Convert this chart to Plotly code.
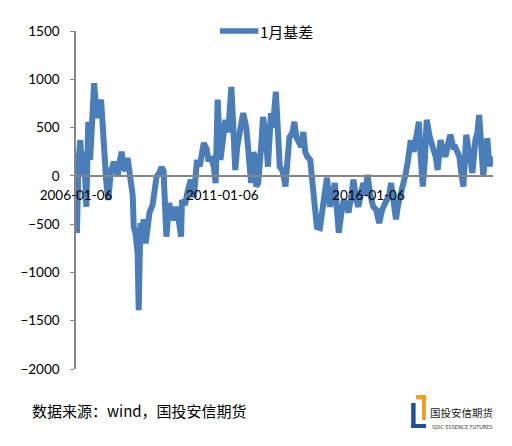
import plotly.graph_objects as go

# ---- data ----
dates = [
    "2006-01-06", "2006-01-18", "2006-02-06", "2006-03-01", "2006-03-25", "2006-04-18",
    "2006-05-15", "2006-06-08", "2006-07-02", "2006-07-26", "2006-08-20", "2006-09-15",
    "2006-10-08", "2006-11-15", "2006-12-22", "2007-01-18", "2007-02-12", "2007-03-18",
    "2007-04-25", "2007-05-18", "2007-06-12", "2007-07-06", "2007-07-30", "2007-08-25",
    "2007-09-18", "2007-10-12", "2007-11-20", "2007-12-15", "2007-12-28", "2008-01-20",
    "2008-02-15", "2008-02-28", "2008-03-10", "2008-03-22", "2008-04-18", "2008-04-30",
    "2008-05-25", "2008-06-18", "2008-07-12", "2008-08-20", "2008-09-12", "2008-10-08",
    "2008-11-15", "2008-12-10", "2009-01-03", "2009-01-15", "2009-02-08", "2009-03-15",
    "2009-04-08", "2009-05-15", "2009-06-08", "2009-07-03", "2009-08-10", "2009-08-22",
    "2009-09-28", "2009-11-03", "2009-12-10", "2010-01-18", "2010-02-25", "2010-04-01",
    "2010-04-25", "2010-05-20", "2010-06-25", "2010-07-20", "2010-08-15", "2010-09-22",
    "2010-10-16", "2010-11-10", "2010-12-15", "2011-01-10", "2011-02-15", "2011-03-22",
    "2011-04-30", "2011-05-25", "2011-06-18", "2011-07-12", "2011-08-20", "2011-09-25",
    "2011-11-03", "2011-11-25", "2012-01-02", "2012-01-28", "2012-02-22", "2012-03-06",
    "2012-03-30", "2012-05-06", "2012-05-30", "2012-07-06", "2012-07-30", "2012-09-06",
    "2012-09-30", "2012-11-06", "2012-11-30", "2012-12-25", "2013-01-30", "2013-03-06",
    "2013-03-30", "2013-04-25", "2013-06-02", "2013-06-25", "2013-07-20", "2013-08-25",
    "2013-09-20", "2013-10-15", "2013-11-08", "2013-12-03", "2014-01-10", "2014-02-03",
    "2014-02-28", "2014-04-03", "2014-05-10", "2014-06-18", "2014-08-06", "2014-09-12",
    "2014-10-06", "2014-11-12", "2014-12-06", "2015-01-01", "2015-02-08", "2015-03-03",
    "2015-04-08", "2015-05-03", "2015-06-08", "2015-07-03", "2015-08-08", "2015-09-03",
    "2015-10-12", "2015-11-05", "2015-11-30", "2015-12-25", "2016-01-30", "2016-03-06",
    "2016-04-12", "2016-05-20", "2016-06-25", "2016-08-15", "2016-09-20", "2016-10-15",
    "2016-11-10", "2016-12-15", "2017-01-10", "2017-02-18", "2017-03-25", "2017-04-18",
    "2017-05-12", "2017-06-18", "2017-07-25", "2017-08-20", "2017-09-28", "2017-10-20",
    "2017-11-15", "2017-12-10", "2018-01-03", "2018-02-10", "2018-03-18", "2018-04-25",
    "2018-05-20", "2018-06-25", "2018-08-01", "2018-08-25", "2018-10-01", "2018-10-25",
    "2018-12-01", "2018-12-25", "2019-01-20", "2019-02-15", "2019-03-08", "2019-04-06",
    "2019-05-12", "2019-06-20", "2019-07-28", "2019-09-03", "2019-09-28", "2019-10-20",
    "2019-11-15", "2019-12-10", "2020-01-06", "2020-01-30", "2020-02-25", "2020-03-20",
    "2020-04-01",
]
basis = [
    100, -590, 150, 370, 0, 250,
    -320, 560, 165, 550, 960, 700,
    600, 790, 135, -50, -250, 50,
    145, 60, 0, 150, 250, 80,
    60, 185, -145, -200, -530, -600,
    -800, -1390, -900, -490, -550, -450,
    -700, -500, -380, -300, -150, -10,
    40, 90, 50, -180, -630, -280,
    -400, -450, -320, -400, -630, -250,
    -300, -150, -40, -220, 165, 100,
    250, 340, 280, 150, 200, 100,
    -75, 790, 165, 400, 580, 450,
    920, 500, 60, 300, 450, 650,
    500, 300, -75, 240, 200, -110,
    -75, 300, 610, 400, 95, 650,
    500, 870, 400, 95, 50, -110,
    150, 400, 450, 560, 400, 340,
    300, 455, 250, 200, 165, -50,
    -320, -530, -540, -300, -20, -320,
    -250, -75, -300, -590, -350, -250,
    -320, -380, -200, -40, -250, -320,
    -150, -75, -200, 10, -200, -320,
    -350, -490, -350, -250, -200, -75,
    -200, -450, -300, -180, -100, 30,
    150, 370, 250, 400, 560, 200,
    -110, 150, 580, 400, 300, 200,
    60, 370, 250, 200, 350, 425,
    300, 300, 250, 200, 50, -110,
    425, 200, 30, 370, 450, 630,
    300, 0, 200, 390, 100, 165,
    200,
]
series_name = "1月基差"
x_ticks = ["2006-01-06", "2011-01-06", "2016-01-06"]
y_ticks = [-2000, -1500, -1000, -500, 0, 500, 1000, 1500]
source_text = "数据来源：wind，国投安信期货"
logo_cn = "国投安信期货"
logo_en = "SDIC ESSENCE FUTURES"

# ---- geometry (page body has an 8px margin) ----
OFF = 8
W, H = 512 - OFF, 446 - OFF
L, R, T, B = 70 - OFF, 19, 31 - OFF, 77
PW, PH = W - L - R, H - T - B


def px(x):
    """page pixel x -> paper fraction"""
    return (x - OFF - L) / PW


def py(y):
    """page pixel y -> paper fraction"""
    return (H - B - (y - OFF)) / PH


AX = "#868686"
LINE = "#4A7EBB"
FONT = "Lato, 'Noto Sans CJK SC', sans-serif"
CJK = "'Noto Sans CJK SC', sans-serif"

fig = go.Figure()
fig.add_trace(go.Scatter(
    x=dates, y=basis, mode="lines", name=series_name, showlegend=False,
    line=dict(color=LINE, width=6, shape="linear"),
))

ymin, ymax = y_ticks[0], y_ticks[-1]
fig.update_layout(
    width=W, height=H,
    margin=dict(l=L, r=R, t=T, b=B),
    paper_bgcolor="white", plot_bgcolor="white",
    font=dict(family=FONT, size=13, color="#000000"),
    showlegend=False,
    xaxis=dict(
        type="date", range=["2006-01-06", "2020-04-10"],
        tickvals=x_ticks, ticktext=x_ticks,
        anchor="free", position=(0 - ymin) / (ymax - ymin),
        showline=True, linecolor=AX, linewidth=1.5,
        ticks="", showgrid=False, zeroline=False,
        tickfont=dict(size=13.5, color="#000"), ticklabelstandoff=7,
    ),
    yaxis=dict(
        range=[ymin, ymax], tickvals=y_ticks,
        showline=True, linecolor=AX, linewidth=1.5,
        ticks="outside", ticklen=4, tickcolor=AX, tickwidth=1,
        showgrid=False, zeroline=False,
        tickfont=dict(size=13.5, color="#000"), ticklabelstandoff=8,
    ),
)

# legend (drawn as key line + label)
fig.add_shape(type="line", xref="paper", yref="paper",
              x0=px(216), x1=px(255), y0=py(31), y1=py(31),
              line=dict(color=LINE, width=5.5))
fig.add_annotation(
    xref="paper", yref="paper", x=px(284), y=py(31), xanchor="center", yanchor="middle",
    text=series_name, showarrow=False,
    font=dict(size=15, family=CJK, color="#000"),
)

# source note
fig.add_annotation(
    xref="paper", yref="paper", x=px(134), y=py(410), xanchor="center", yanchor="middle",
    text=source_text, showarrow=False,
    font=dict(size=15, family=CJK, color="#000"),
)

# logo (shapes + text)
shapes = [
    dict(x0=410, x1=414.5, y0=403, y1=428, color="#1F4E9A"),
    dict(x0=410, x1=425, y0=424, y1=428, color="#1F4E9A"),
    dict(x0=415, x1=425, y0=395, y1=399.5, color="#F0A020"),
    dict(x0=421, x1=425, y0=395, y1=420, color="#F0A020"),
]
for s in shapes:
    fig.add_shape(type="rect", xref="paper", yref="paper",
                  x0=px(s["x0"]), x1=px(s["x1"]), y0=py(s["y1"]), y1=py(s["y0"]),
                  fillcolor=s["color"], line=dict(width=0))
fig.add_annotation(
    xref="paper", yref="paper", x=px(461), y=py(412.5), xanchor="center", yanchor="middle",
    text=logo_cn, showarrow=False,
    font=dict(size=10.5, family=CJK, color="#222"),
)
fig.add_annotation(
    xref="paper", yref="paper", x=px(462), y=py(427), xanchor="center", yanchor="middle",
    text=logo_en, showarrow=False,
    font=dict(size=5.5, family="'Liberation Sans Narrow', 'DejaVu Sans Condensed', sans-serif", color="#333"),
)

fig.write_html("out.html")
